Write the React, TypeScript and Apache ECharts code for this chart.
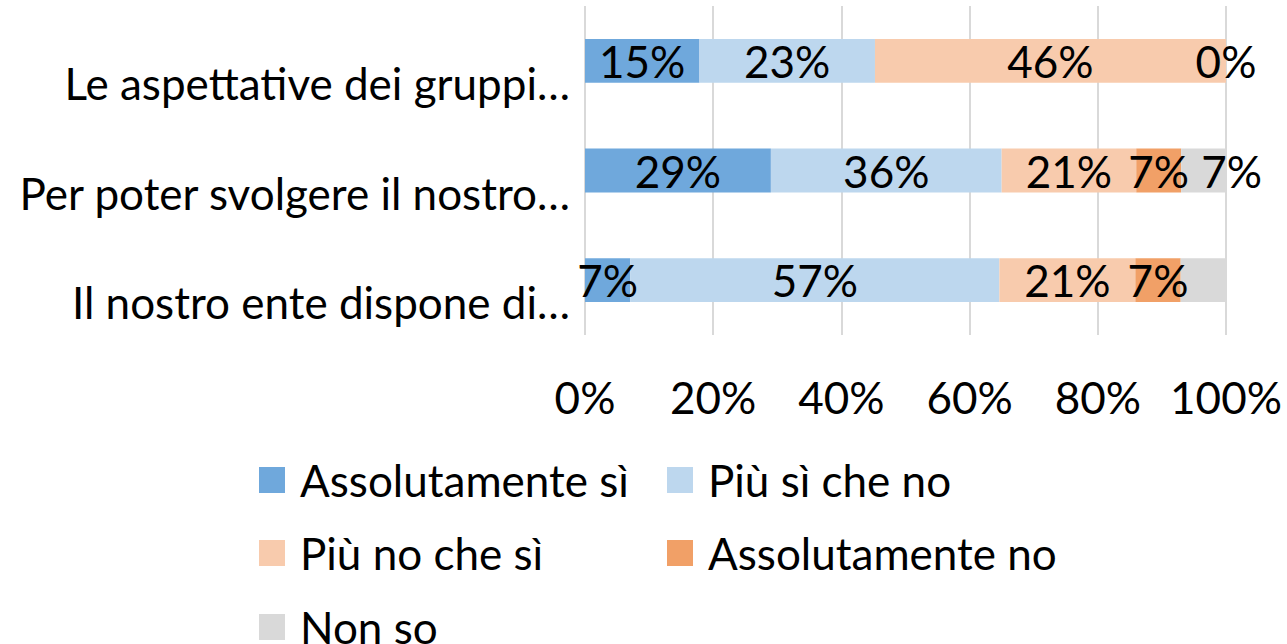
import React, { useEffect, useRef } from 'react';
import * as echarts from 'echarts';

const categories = ['Le aspettative dei gruppi…', 'Per poter svolgere il nostro…', 'Il nostro ente dispone di…'];
const seriesNames = ['Assolutamente sì', 'Più sì che no', 'Più no che sì', 'Assolutamente no', 'Non so'];
const assolutamenteSi = [15, 29, 7];
const piuSiCheNo = [23, 36, 57];
const piuNoCheSi = [46, 21, 21];
const assolutamenteNo = [0, 7, 7];
const nonSo = [0, 7, 7];
const showLabel = [
  [true, true, true],
  [true, true, true],
  [true, true, true],
  [true, true, true],
  [false, true, false],
];
const xTicks = [0, 20, 40, 60, 80, 100];
const colors = ['#6FA8DC', '#BDD7EE', '#F8CBAD', '#F1A067', '#D9D9D9'];

const FONT = 'Lato';
const FS = 44;

export default function App() {
  const ref = useRef<HTMLDivElement>(null);
  useEffect(() => {
    if (!ref.current) return;
    const chart = echarts.init(ref.current, undefined, { renderer: 'svg' });
    const raw = [assolutamenteSi, piuSiCheNo, piuNoCheSi, assolutamenteNo, nonSo];
    const totals = categories.map((_, i) => raw.reduce((s, arr) => s + arr[i], 0));
    const icon = 'path://M0,0h26v26h-26z M36,0v26';
    const legendText = { fontSize: FS, color: '#000', fontFamily: FONT };
    const legendBase = {
      orient: 'vertical',
      padding: 0,
      itemWidth: 36,
      itemHeight: 26,
      itemGap: 29,
      icon,
      textStyle: legendText,
    };
    chart.setOption({
      animation: false,
      textStyle: { fontFamily: FONT },
      grid: { left: 585, right: 61, top: 6, height: 329, containLabel: false },
      xAxis: {
        type: 'value',
        min: xTicks[0],
        max: xTicks[xTicks.length - 1],
        interval: xTicks[1] - xTicks[0],
        axisLine: { show: false },
        axisTick: { show: false },
        splitLine: { show: true, lineStyle: { color: '#D9D9D9', width: 2 } },
        axisLabel: { formatter: '{value}%', fontSize: FS, color: '#000', fontFamily: FONT, margin: 40 },
      },
      yAxis: {
        type: 'category',
        inverse: true,
        data: categories,
        axisLine: { show: false },
        axisTick: { show: false },
        axisLabel: { fontSize: FS, color: '#000', fontFamily: FONT, margin: 15, verticalAlign: 'top', lineHeight: 44 },
      },
      legend: [
        { ...legendBase, data: [seriesNames[0], seriesNames[2]], left: 259, top: 458 },
        { ...legendBase, data: [seriesNames[1], seriesNames[3]], left: 667, top: 458 },
        { ...legendBase, data: [seriesNames[4]], left: 259, top: 605 },
      ],
      series: raw.map((arr, si) => ({
        name: seriesNames[si],
        type: 'bar',
        stack: 'total',
        barWidth: '40%',
        itemStyle: { color: colors[si] },
        label: {
          show: true,
          position: 'inside',
          fontSize: FS,
          color: '#000',
          fontFamily: FONT,
          formatter: (p: any) => p.data.raw + '%',
        },
        data: arr.map((v, ci) => {
          const item: any = { value: (v / totals[ci]) * 100, raw: v };
          if (!showLabel[si][ci]) item.label = { show: false };
          if (si === 4 && ci === 1) item.label = { offset: [28, 0] };
          return item;
        }),
      })),
    });
    return () => chart.dispose();
  }, []);
  return <div ref={ref} style={{ position: 'absolute', left: 0, top: 0, width: 1287, height: 644 }} />;
}
